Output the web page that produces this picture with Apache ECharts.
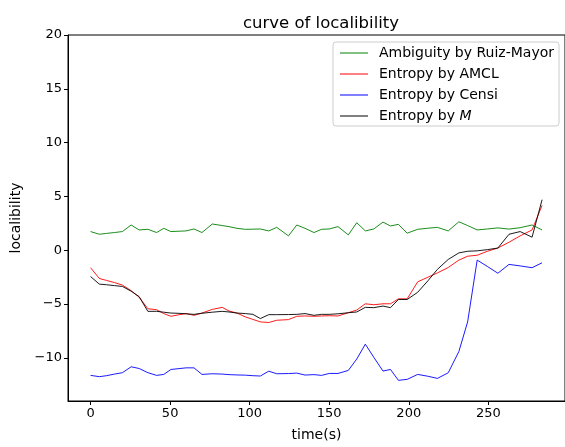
<!DOCTYPE html>
<html>
<head>
<meta charset="utf-8">
<script src="https://cdn.jsdelivr.net/npm/echarts@6/dist/echarts.min.js"></script>
<style>
  html, body { margin: 0; padding: 0; background: #fff; }
  #chart { width: 565px; height: 447px; }
</style>
</head>
<body>
<div id="chart"></div>
<script>
// time stamps (s)
const times = [0, 5.5, 10, 15, 20, 25.5, 30.5, 36, 41.5, 46, 50.5, 55, 60, 65, 70, 76.5, 82.7, 87, 92, 97.3,
  102, 106.7, 112, 117, 124.4, 129.6, 134.8, 140.4, 145.2, 150, 155.5, 162, 167.3, 172.7, 178, 183.8,
  188.5, 193.5, 199, 205.6, 212, 218, 224.8, 231.5, 237, 243, 249.4, 256, 263, 270, 277.5, 283.8];

const ambiguityRuiz = [1.74, 1.49, 1.57, 1.65, 1.74, 2.35, 1.89, 1.95, 1.65, 2.04, 1.74, 1.77, 1.8, 1.98, 1.65, 2.44, 2.3, 2.2, 2.04, 1.95,
  1.96, 1.98, 1.8, 2.13, 1.34, 2.35, 2.04, 1.65, 1.95, 1.98, 2.2, 1.43, 2.56, 1.8, 1.98, 2.62,
  2.26, 2.41, 1.59, 1.95, 2.05, 2.13, 1.8, 2.65, 2.3, 1.89, 1.98, 2.08, 1.97, 2.1, 2.35, 1.89];

const entropyAmcl = [-1.62, -2.62, -2.8, -3.0, -3.23, -3.75, -4.36, -5.43, -5.52, -5.88, -6.13, -6.0, -5.88, -6.04, -5.83, -5.49, -5.3, -5.64, -5.83, -6.19,
  -6.42, -6.65, -6.71, -6.5, -6.44, -6.13, -6.1, -6.13, -6.1, -6.08, -6.1, -5.8, -5.55, -4.97, -5.06, -4.97,
  -4.97, -4.51, -4.51, -2.93, -2.5, -2.1, -1.6, -0.91, -0.55, -0.46, -0.09, 0.21, 0.75, 1.34, 1.89, 4.18];

const entropyCensi = [-11.62, -11.74, -11.65, -11.5, -11.37, -10.82, -10.98, -11.37, -11.62, -11.53, -11.07, -11.0, -10.92, -10.92, -11.53, -11.47, -11.5, -11.55, -11.58, -11.6,
  -11.65, -11.68, -11.23, -11.47, -11.45, -11.41, -11.59, -11.55, -11.62, -11.44, -11.44, -11.16, -10.1, -8.72, -9.94, -11.22,
  -11.07, -12.08, -11.99, -11.53, -11.7, -11.9, -11.38, -9.4, -6.65, -0.91, -1.5, -2.13, -1.31, -1.45, -1.62, -1.16];

const entropyM = [-2.44, -3.14, -3.2, -3.28, -3.36, -3.8, -4.3, -5.67, -5.67, -5.75, -5.83, -5.85, -5.9, -5.95, -5.85, -5.75, -5.67, -5.73, -5.83, -5.88,
  -5.95, -6.34, -5.98, -5.98, -5.97, -5.95, -5.88, -6.04, -5.95, -5.95, -5.9, -5.8, -5.73, -5.3, -5.33, -5.18,
  -5.33, -4.57, -4.57, -3.9, -2.84, -1.77, -0.85, -0.24, -0.09, -0.05, 0.06, 0.21, 1.49, 1.74, 1.22, 4.7];

const xTicks = [0, 50, 100, 150, 200, 250];
const yTicks = [-10, -5, 0, 5, 10, 15, 20];

const font = 'DejaVu Sans';
const pair = (ys) => times.map((t, i) => [t, ys[i]]);
const minus = (v) => String(v).replace('-', '\u2212');

const chart = echarts.init(document.getElementById('chart'), null, { renderer: 'canvas' });

const mkLine = (name, color, ys) => ({
    name: name,
    type: 'line',
    data: pair(ys),
    showSymbol: false,
    symbol: 'none',
    animation: false,
    lineStyle: { color: color, width: 0.9 },
    itemStyle: { color: color },
});

const option = {
    animation: false,
    title: {
        text: 'curve of localibility',
        left: 316,
        textAlign: 'center',
        top: 10,
        textStyle: { fontFamily: font, fontSize: 16.5, fontWeight: 'normal', color: '#000' },
    },
    grid: {
        left: 68,
        top: 35,
        right: -3,
        bottom: 40,
        show: true,
        borderColor: '#000',
        borderWidth: 1,
        containLabel: false,
    },
    legend: {
        orient: 'vertical',
        left: 333,
        top: 42,
        itemWidth: 28,
        itemHeight: 10,
        itemGap: 7,
        padding: [4, 5, 3, 7],
        borderColor: '#ccc',
        borderWidth: 1,
        borderRadius: 3,
        backgroundColor: 'rgba(255,255,255,0.8)',
        icon: 'path://M0,5 L28,5 L28,6 L0,6 Z',
        data: ['Ambiguity by Ruiz-Mayor', 'Entropy by AMCL', 'Entropy by Censi', 'Entropy by M'],
        formatter: (name) => name === 'Entropy by M' ? '{n|Entropy by }{i|M}' : '{n|' + name + '}',
        textStyle: {
            fontFamily: font,
            fontSize: 14,
            color: '#000',
            padding: [0, 0, 0, 6],
            rich: {
                n: { fontFamily: font, fontSize: 14, color: '#000' },
                i: { fontFamily: font, fontSize: 14, color: '#000', fontStyle: 'italic' },
            },
        },
    },
    xAxis: {
        type: 'value',
        min: -14.2,
        max: 298.2,
        name: 'time(s)',
        nameLocation: 'middle',
        nameGap: 27,
        nameTextStyle: { fontFamily: font, fontSize: 14, color: '#000' },
        axisLine: { show: true, onZero: false, lineStyle: { color: '#000', width: 1 } },
        axisTick: { show: true, inside: false, length: 4, customValues: xTicks, lineStyle: { color: '#000' } },
        axisLabel: { customValues: xTicks, fontFamily: font, fontSize: 13, color: '#000', margin: 6, formatter: minus },
        splitLine: { show: false },
    },
    yAxis: {
        type: 'value',
        min: -14,
        max: 20,
        name: 'localibility',
        nameLocation: 'middle',
        nameGap: 45,
        nameRotate: 90,
        nameTextStyle: { fontFamily: font, fontSize: 14, color: '#000' },
        axisLine: { show: true, onZero: false, lineStyle: { color: '#000', width: 1 } },
        axisTick: { show: true, inside: false, length: 4, customValues: yTicks, lineStyle: { color: '#000' } },
        axisLabel: { customValues: yTicks, fontFamily: font, fontSize: 13, color: '#000', margin: 6, formatter: minus },
        splitLine: { show: false },
    },
    series: [
        mkLine('Ambiguity by Ruiz-Mayor', '#008000', ambiguityRuiz),
        mkLine('Entropy by AMCL', '#ff0000', entropyAmcl),
        mkLine('Entropy by Censi', '#0000ff', entropyCensi),
        mkLine('Entropy by M', '#000000', entropyM),
    ],
};

chart.setOption(option);
</script>
</body>
</html>
